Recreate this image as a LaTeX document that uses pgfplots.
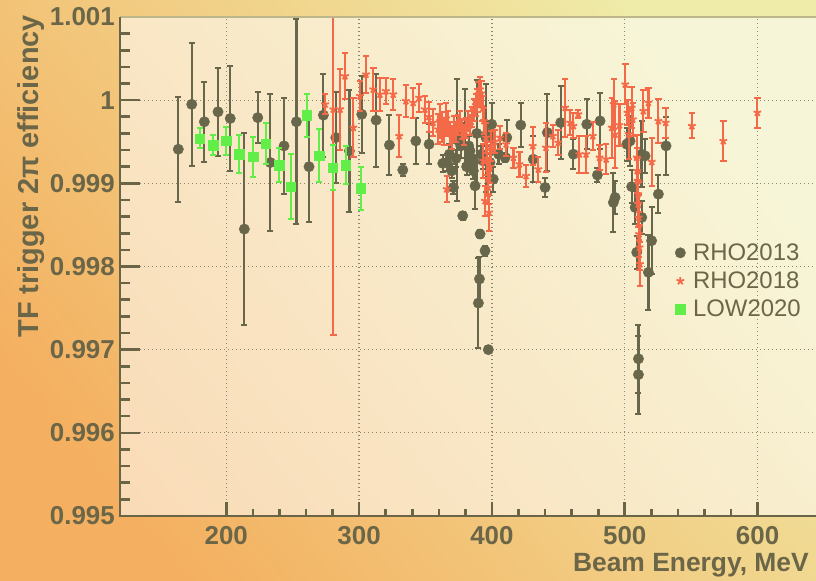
\documentclass[border=0pt]{standalone}
\usepackage{fontspec}
\setmainfont{Liberation Sans}
\usepackage{pgfplots}
\pgfplotsset{compat=1.18}
\usepackage{pgfplotstable}

\definecolor{framec}{HTML}{6B6548}
\definecolor{textc}{HTML}{6B6648}
\definecolor{gridc}{HTML}{8C8670}
\definecolor{topc}{HTML}{BDB68A}
\definecolor{rhoA}{HTML}{68664B}
\definecolor{rhoB}{HTML}{F46A48}
\definecolor{lowC}{HTML}{62EE48}
\definecolor{bgOrange}{HTML}{F4B060}
\definecolor{bgYellow}{HTML}{EFEBA8}

% RHO2013 scan
\pgfplotstableread{
x y ey
163.9 0.99941 0.00063
174.0 0.99995 0.00074
183.5 0.99974 0.00048
193.8 0.99986 0.00053
203.0 0.99978 0.00063
213.6 0.99845 0.00115
223.7 0.99979 0.00031
233.2 0.99925 0.00082
243.5 0.99945 0.00058
252.8 0.99974 0.00123
262.3 0.99920 0.00067
273.1 0.99982 0.00050
282.5 0.99955 0.00055
292.7 0.99939 0.00073
302.0 0.99983 0.00046
312.8 0.99976 0.00056
322.8 0.99946 0.00036
332.9 0.99916 0.00007
342.7 0.99951 0.00028
352.7 0.99947 0.00024
363.0 0.99924 0.00010
366.0 0.99925 0.00010
368.0 0.99935 0.00012
369.7 0.99915 0.00008
371.0 0.99895 0.00008
373.0 0.99930 0.00010
374.0 0.99952 0.00073
376.5 0.99945 0.00015
378.0 0.99861 0.00005
379.8 0.99968 0.00045
381.0 0.99920 0.00010
382.5 0.99945 0.00012
383.5 0.99939 0.00010
385.0 0.99930 0.00010
386.0 0.99915 0.00010
387.3 0.99897 0.00028
388.6 0.99960 0.00064
389.8 0.99756 0.00054
390.6 0.99785 0.00026
391.1 0.99839 0.00005
392.0 0.99935 0.00010
393.5 0.99927 0.00010
394.8 0.99819 0.00006
395.5 0.99955 0.00065
396.5 0.99960 0.00015
397.3 0.99700 0.00004
398.5 0.99925 0.00010
399.8 0.99971 0.00025
401.0 0.99905 0.00015
405.0 0.99935 0.00012
409.9 0.99931 0.00005
411.2 0.99955 0.00021
421.7 0.99970 0.00026
431.1 0.99929 0.00028
440.0 0.99895 0.00011
441.7 0.99961 0.00046
451.8 0.99973 0.00044
461.3 0.99935 0.00018
471.4 0.99971 0.00030
479.4 0.99910 0.00008
481.4 0.99975 0.00034
491.4 0.99877 0.00036
492.7 0.99883 0.00020
501.5 0.99947 0.00020
504.0 0.99951 0.00030
505.2 0.99896 0.00020
507.8 0.99871 0.00020
509.0 0.99817 0.00020
510.3 0.99689 0.00041
510.3 0.99670 0.00047
512.6 0.99935 0.00040
512.8 0.99859 0.00020
515.3 0.99933 0.00020
517.8 0.99793 0.00045
520.2 0.99831 0.00040
525.3 0.99887 0.00023
531.1 0.99945 0.00035
}\tabA

% RHO2018 scan
\pgfplotstableread{
x y ey
274.4 0.99995 0.00012
280.6 0.99989 0.00271
285.7 0.99989 0.00049
289.4 1.00029 0.00028
295.7 0.99967 0.00035
300.7 1.00005 0.00018
305.2 1.00031 0.00022
310.7 1.00013 0.00026
315.7 1.00007 0.00020
320.2 1.00011 0.00016
325.7 1.00007 0.00019
330.2 0.99957 0.00025
335.2 0.99999 0.00019
340.7 0.99997 0.00018
345.2 1.00003 0.00017
349.5 0.99989 0.00016
352.5 0.99980 0.00018
355.7 0.99973 0.00016
359.5 0.99965 0.00018
361.0 0.99975 0.00020
362.5 0.99968 0.00018
364.0 0.99962 0.00016
365.5 0.99978 0.00018
366.0 0.99893 0.00016
367.0 0.99972 0.00015
368.5 0.99960 0.00014
370.0 0.99955 0.00014
371.5 0.99968 0.00013
373.0 0.99962 0.00012
374.5 0.99970 0.00012
376.0 0.99975 0.00012
377.5 0.99965 0.00012
379.0 0.99958 0.00012
380.5 0.99966 0.00012
382.0 0.99975 0.00012
383.5 0.99970 0.00012
385.0 0.99980 0.00012
386.5 0.99988 0.00013
388.0 0.99994 0.00013
389.0 1.00000 0.00014
390.0 1.00007 0.00015
391.0 1.00013 0.00015
392.0 1.00008 0.00015
393.0 0.99990 0.00015
393.5 0.99927 0.00020
394.0 0.99975 0.00016
394.8 0.99879 0.00018
395.5 0.99955 0.00018
396.2 0.99930 0.00020
396.8 0.99905 0.00020
397.3 0.99895 0.00020
397.8 0.99865 0.00022
398.5 0.99920 0.00020
399.2 0.99945 0.00018
402.0 0.99950 0.00014
406.1 0.99955 0.00014
410.7 0.99947 0.00014
416.2 0.99931 0.00012
420.7 0.99923 0.00015
425.7 0.99909 0.00013
430.7 0.99945 0.00023
434.9 0.99917 0.00015
440.7 0.99943 0.00029
445.8 0.99957 0.00013
450.0 0.99949 0.00015
455.1 0.99991 0.00035
458.9 0.99973 0.00015
461.3 0.99969 0.00015
465.0 0.99983 0.00005
465.8 0.99935 0.00022
470.9 0.99935 0.00022
475.9 0.99957 0.00017
481.0 0.99931 0.00015
486.0 0.99929 0.00018
490.2 0.99967 0.00036
491.7 0.99995 0.00030
492.7 0.99959 0.00040
496.0 0.99970 0.00025
500.4 1.00019 0.00024
502.0 0.99985 0.00015
503.0 0.99959 0.00030
505.2 0.99991 0.00025
506.0 0.99977 0.00020
509.0 0.99931 0.00027
509.3 0.99915 0.00027
509.6 0.99903 0.00027
509.9 0.99887 0.00027
510.2 0.99875 0.00027
510.5 0.99859 0.00027
510.8 0.99839 0.00027
511.1 0.99823 0.00027
511.4 0.99803 0.00027
514.0 0.99987 0.00025
517.8 0.99997 0.00018
520.3 0.99926 0.00029
525.3 0.99975 0.00026
530.8 0.99973 0.00018
550.5 0.99969 0.00015
574.2 0.99951 0.00024
599.8 0.99985 0.00018
}\tabB

% LOW2020 scan
\pgfplotstableread{
x y ey
180.2 0.99954 0.00012
190.2 0.99946 0.00012
199.8 0.99951 0.00017
209.8 0.99935 0.00023
220.3 0.99932 0.00024
229.9 0.99948 0.00025
239.9 0.99922 0.00021
248.7 0.99896 0.00039
260.5 0.99982 0.00026
270.0 0.99933 0.00032
280.1 0.99919 0.00027
289.9 0.99922 0.00023
301.2 0.99894 0.00026
}\tabC

\begin{document}
\begin{tikzpicture}[x=1bp,y=1bp]
% canvas
\shade[bottom color=bgOrange, top color=bgYellow, shading angle=-50] (0,0) rectangle (816,581);
\begin{axis}[
  at={(120bp,65bp)}, anchor=south west,
  scale only axis, width=704bp, height=499bp,
  xmin=120, xmax=650, ymin=0.995, ymax=1.001,
  clip mode=individual,
  axis line style={draw=none},
  axis background/.style={fill=white, fill opacity=0.55},
  tick pos=left, tick align=inside,
  xtick={200,300,400,500,600}, minor x tick num=4,
  ytick={0.995,0.996,0.997,0.998,0.999,1,1.001},
  yticklabels={0.995,0.996,0.997,0.998,0.999,1,1.001},
  minor y tick num=4,
  /pgf/number format/assume math mode=true,
  major tick length=20bp, minor tick length=10bp,
  every tick/.style={line width=2.6bp, color=framec},
  xtick style={/pgfplots/major tick length=14bp, /pgfplots/minor tick length=7bp},
  ticklabel style={font=\fontsize{26}{26}\selectfont\bfseries, text=textc},
  yticklabel style={inner sep=0pt, xshift=-5bp, anchor=east},
  xticklabel style={inner sep=0pt, yshift=-10bp, anchor=north},
  grid=major,
  grid style={line width=1.3bp, color=gridc, dash pattern=on 1.3bp off 2.7bp},
  legend style={at={(0.784,0.553)}, anchor=north west, draw=none, fill=none,
    font=\fontsize{24}{28}\selectfont, text=textc, row sep=7bp, column sep=6bp,
    nodes={inner sep=1.5bp}},
  legend cell align=left,
]
\addplot[only marks, mark=*, mark size=5.2bp, color=rhoA,
  error bars/.cd, y dir=both, y explicit,
  error bar style={line width=2.2bp, solid, color=rhoA},
  error mark=-,
  error mark options={rotate=90, line width=2bp, mark size=3bp, color=rhoA}]
  table[x=x, y=y, y error=ey] {\tabA};
\addlegendentry{RHO2013}
\addplot[only marks, mark=star, mark size=4bp, line width=1.8bp, color=rhoB,
  error bars/.cd, y dir=both, y explicit,
  error bar style={line width=2.2bp, solid, color=rhoB},
  error mark=-,
  error mark options={rotate=90, line width=2bp, mark size=3.2bp, color=rhoB}]
  table[x=x, y=y, y error=ey] {\tabB};
\addlegendentry{RHO2018}
\addplot[only marks, mark=square*, mark size=4.7bp, color=lowC,
  error bars/.cd, y dir=both, y explicit,
  error bar style={line width=2.2bp, solid, color=lowC},
  error mark=-,
  error mark options={rotate=90, line width=2bp, mark size=3bp, color=lowC}]
  table[x=x, y=y, y error=ey] {\tabC};
\addlegendentry{LOW2020}
% frame: heavy left and bottom axes, light top edge
\draw[topc, line width=1.6bp] (rel axis cs:0,1) -- (rel axis cs:1,1);
\draw[framec, line width=2.8bp] (rel axis cs:0,1) -- (rel axis cs:0,0) -- (rel axis cs:1,0);
\end{axis}
\node[rotate=90, anchor=base east, inner sep=0pt, text=textc,
  font=\fontsize{29}{29}\selectfont\bfseries] at (38.3,566) {TF trigger 2π efficiency};
\node[anchor=base east, inner sep=0pt, text=textc,
  font=\fontsize{26.5}{26.5}\selectfont\bfseries] at (809,9.3) {Beam Energy, MeV};
\pgfresetboundingbox
\useasboundingbox (0,0) rectangle (816,581);
\end{tikzpicture}
\end{document}
